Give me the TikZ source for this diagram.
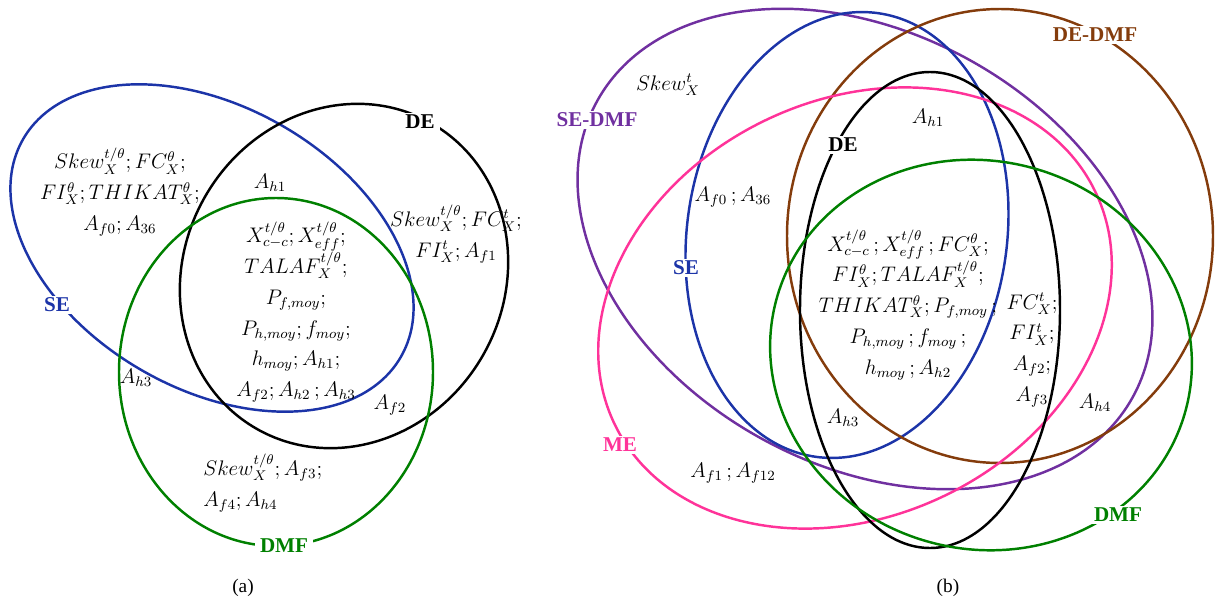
\documentclass[tikz,border=0pt]{standalone}
\usepackage{fontspec}
\setmainfont{Liberation Serif}
\definecolor{seblue}{RGB}{28,52,168}
\definecolor{dmfgreen}{RGB}{0,128,0}
\definecolor{sedmfpurple}{RGB}{112,48,160}
\definecolor{dedmfbrown}{RGB}{132,60,12}
\definecolor{mepink}{RGB}{255,51,153}
\tikzset{
  setline/.style={line width=1.4pt},
  setlabel/.style={font=\fontsize{12}{14}\selectfont\bfseries, fill=white, inner xsep=3pt, inner ysep=1pt},
  mtext/.style={font=\fontsize{12}{17.5}\selectfont, align=center, inner sep=0pt},
  captext/.style={font=\fontsize{11}{13}\selectfont, inner sep=0pt}
}
\begin{document}
\begin{tikzpicture}[x=0.02cm,y=0.02cm]
\useasboundingbox (0,0) rectangle (1215,600);
% ---------- (a) ----------
\draw[setline, seblue, rotate around={-30:(212,352)}] (212,352) ellipse (218 and 141);
\draw[setline, black, rotate around={60:(344,324)}] (344,324) ellipse (176 and 160);
\draw[setline, dmfgreen] (276,228) ellipse (157 and 174);
\node[setlabel, text=seblue] (aSE) at (57,295) {SE};
\node[setlabel, text=black] (aDE) at (420,478) {DE};
\node[setlabel, text=dmfgreen] (aDMF) at (284,54) {DMF};
\node[mtext] (aT1) at (120,408) {$Skew_X^{t/\theta}; FC_X^{\theta};$\\ $FI_X^{\theta}; THIKAT_X^{\theta};$\\ $A_{f0}; A_{36}$};
\node[mtext] (aAh1) at (270,417) {$A_{h1}$};
\node[mtext] (aT2) at (296,288) {$X_{c-c}^{t/\theta}; X_{eff}^{t/\theta};$\\ $TALAF_X^{t/\theta};$\\ $P_{f,moy};$\\ $P_{h,moy}; f_{moy};$\\ $h_{moy}; A_{h1};$\\ $A_{f2}; A_{h2}\,; A_{h3}$};
\node[mtext] (aT3) at (456,366) {$Skew_X^{t/\theta}; FC_X^{t};$\\ $FI_X^{t}; A_{f1}$};
\node[mtext] (aAh3) at (136,222) {$A_{h3}$};
\node[mtext] (aAf2) at (390,195) {$A_{f2}$};
\node[mtext, align=left, anchor=west] (aT4) at (203,117) {$Skew_X^{t/\theta}; A_{f3};$\\ $A_{f4}; A_{h4}$};
\node[captext] (capa) at (243,12) {(a)};
% ---------- (b) ----------
\draw[setline, sedmfpurple, rotate around={-29:(865,351)}] (865,351) ellipse (306 and 216);
\draw[setline, seblue, rotate around={-8:(847,365)}] (847,365) ellipse (160 and 224);
\draw[setline, dedmfbrown] (1000,364) ellipse (213 and 227);
\draw[setline, mepink, rotate around={26:(855,292)}] (855,292) ellipse (267 and 208);
\draw[setline, black] (930,290) ellipse (130 and 238);
\draw[setline, dmfgreen, rotate around={-15:(981,245)}] (981,245) ellipse (212 and 194);
\node[setlabel, text=sedmfpurple] (bSEDMF) at (597,480) {SE-DMF};
\node[setlabel, text=seblue] (bSE) at (686,332) {SE};
\node[setlabel, text=black] (bDE) at (843,455) {DE};
\node[setlabel, text=dedmfbrown] (bDEDMF) at (1095,565) {DE-DMF};
\node[setlabel, text=mepink] (bME) at (620,155) {ME};
\node[setlabel, text=dmfgreen] (bDMF) at (1118,85) {DMF};
\node[mtext] (bSkew) at (668,515) {$Skew_X^{t}$};
\node[mtext] (bAh1) at (928,482) {$A_{h1}$};
\node[mtext] (bAf0) at (733,403) {$A_{f0}\,; A_{36}$};
\node[mtext] (bT1) at (908,295) {$X_{c-c}^{t/\theta}\,; X_{eff}^{t/\theta}\,; FC_X^{\theta};$\\ $FI_X^{\theta}; TALAF_X^{t/\theta};$\\ $THIKAT_X^{\theta}; P_{f,moy}\,;$\\ $P_{h,moy}\,; f_{moy}\,;$\\ $h_{moy}\,; A_{h2}$};
\node[mtext] (bT2) at (1032,250) {$FC_X^{t};$\\ $FI_X^{t};$\\ $A_{f2};$\\ $A_{f3}$};
\node[mtext] (bAh4) at (1095,197) {$A_{h4}$};
\node[mtext] (bAh3) at (843,182) {$A_{h3}$};
\node[mtext] (bAf1) at (733,127) {$A_{f1}\,; A_{f12}$};
\node[captext] (capb) at (948,12) {(b)};
\end{tikzpicture}
\end{document}
